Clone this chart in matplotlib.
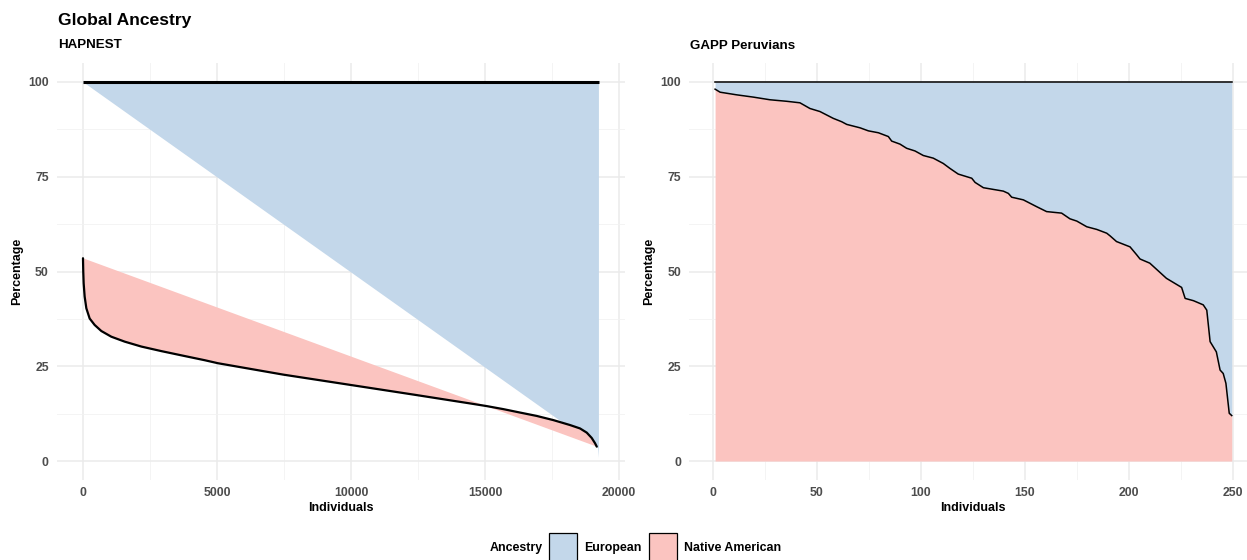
import matplotlib
matplotlib.use("Agg")
import matplotlib.pyplot as plt
from matplotlib.patches import Rectangle
from matplotlib.ticker import MultipleLocator

plt.rcParams['font.family'] = ['Liberation Sans', 'DejaVu Sans']
plt.rcParams['font.weight'] = 'bold'

# ---------------- data ----------------
title = "Global Ancestry"
panel_titles = ["HAPNEST", "GAPP Peruvians"]
legend_title = "Ancestry"
ancestries = ["European", "Native American"]
colors = {"European": "#C3D7EA", "Native American": "#FBC4C0"}

# HAPNEST: Native American percentage (sorted)
hap_x = [0, 10, 25, 62, 125, 249, 435, 684, 1057, 1555, 2177, 2923, 3794, 4540,
         5037, 7470, 9960, 12450, 14440, 15060, 15680, 16300, 16930, 17550, 18170,
         18545, 18795, 18980, 19105, 19170]
hap_native = [53.5, 50.0, 46.9, 43.4, 40.3, 37.6, 35.9, 34.3, 32.8, 31.5, 30.2, 29.0, 27.7, 26.6,
              25.8, 22.8, 20.1, 17.4, 15.2, 14.5, 13.7, 12.8, 11.9, 10.8, 9.5,
              8.6, 7.5, 6.1, 4.7, 3.8]
hap_total_x = [0, 19250]
hap_total = [100, 100]
# European band outline (as drawn): top at 100, lower end points at the last individuals
hap_euro_x = [0, 19250, 19250, 19220]
hap_euro_y = [100, 100, 0.8, 3.5]

# GAPP Peruvians: Native American percentage (sorted)
gapp_x = [1, 3.4, 11.4, 19.4, 27.4, 35.4, 41.8, 46.6, 51.4, 57.8, 61.9, 64.3, 70.7,
          74.7, 79.5, 84.3, 85.9, 89.9, 93.1, 97.1, 101.1, 105.9, 110.7, 113.9,
          117.9, 124.4, 126, 130, 139.6, 142, 143.6, 149.2, 155.6, 160.4, 167.6,
          171.6, 174.9, 179.7, 184.5, 189.3, 190.9, 194, 200.5, 203.7, 205.3, 210,
          218, 225.3, 227, 231, 235.7, 237.4, 239, 242, 243.8, 245.3, 246.6, 248.2, 249.4]
gapp_native = [98.1, 97.3, 96.6, 96.0, 95.3, 94.9, 94.5, 93.0, 92.2, 90.4, 89.5, 88.8, 87.9,
               87.1, 86.6, 85.6, 84.4, 83.6, 82.5, 81.8, 80.6, 79.9, 78.5, 77.2,
               75.7, 74.6, 73.5, 72.1, 71.2, 70.6, 69.6, 68.9, 67.1, 65.8, 65.4,
               63.9, 63.3, 61.8, 61.1, 60.1, 59.4, 57.9, 56.5, 54.4, 53.3, 52.2,
               48.2, 45.8, 42.9, 42.3, 41.2, 39.8, 31.5, 28.8, 24.0, 23.1, 20.5, 12.6, 12.0]
gapp_total = 100

x_ticks = [[0, 5000, 10000, 15000, 20000], [0, 50, 100, 150, 200, 250]]
y_ticks = [0, 25, 50, 75, 100]

# ---------------- figure ----------------
W, H = 1247, 560
fig = plt.figure(figsize=(W / 100, H / 100), dpi=100)

ax1 = fig.add_axes([57.2 / W, (H - 480) / H, 567.5 / W, 417 / H])
ax2 = fig.add_axes([689.3 / W, (H - 480) / H, 567.4 / W, 417 / H])

grid_major = dict(color="#EBEBEB", linewidth=1.1)
grid_minor = dict(color="#F2F2F2", linewidth=0.6)

def style(ax, xt, xminor, xlim):
    ax.set_xlim(*xlim)
    ax.set_ylim(-5, 105)
    ax.set_xticks(xt)
    ax.set_yticks(y_ticks)
    ax.xaxis.set_minor_locator(MultipleLocator(xminor))
    ax.yaxis.set_minor_locator(MultipleLocator(12.5))
    ax.grid(True, which="major", **grid_major)
    ax.grid(True, which="minor", **grid_minor)
    ax.set_axisbelow(True)
    for s in ax.spines.values():
        s.set_visible(False)
    ax.tick_params(which="both", length=0)
    ax.tick_params(axis="y", pad=6, labelsize=8.8, labelcolor="#4D4D4D")
    ax.tick_params(axis="x", pad=5, labelsize=8.8, labelcolor="#4D4D4D")
    for lab in ax.get_xticklabels() + ax.get_yticklabels():
        lab.set_fontweight("bold")
    ax.set_xlabel("Individuals", fontsize=9.0, fontweight="bold", labelpad=2)
    ax.set_ylabel("Percentage", fontsize=9.0, fontweight="bold", labelpad=4)

# Left panel: HAPNEST
style(ax1, x_ticks[0], 2500, (-962, 20212))
ax1.fill(hap_euro_x, hap_euro_y, color=colors["European"], linewidth=0, zorder=2)
ax1.fill(hap_x, hap_native, color=colors["Native American"], linewidth=0, zorder=2)
ax1.plot(hap_total_x, hap_total, color="black", linewidth=2.2, zorder=3, solid_capstyle="butt")
ax1.plot(hap_x, hap_native, color="black", linewidth=1.6, zorder=3,
         solid_joinstyle="round", solid_capstyle="round")

# Right panel: GAPP Peruvians
style(ax2, x_ticks[1], 25, (-11.4, 261.4))
ax2.fill_between(gapp_x, gapp_native, gapp_total, color=colors["European"], linewidth=0, zorder=2)
ax2.fill_between(gapp_x, 0, gapp_native, color=colors["Native American"], linewidth=0, zorder=2)
ax2.plot([gapp_x[0], gapp_x[-1]], [gapp_total, gapp_total], color="black", linewidth=1.1, zorder=3)
ax2.plot(gapp_x, gapp_native, color="black", linewidth=1.1, zorder=3)

# Titles
fig.text(58 / W, 1 - 20 / H, title, fontsize=12.6, fontweight="bold", ha="left", va="center")
fig.text(58 / W, 1 - 45 / H, panel_titles[0], fontsize=9.6, fontweight="bold", ha="left", va="center")
fig.text(690 / W, 1 - 46 / H, panel_titles[1], fontsize=9.6, fontweight="bold", ha="left", va="center")

# Legend (bottom)
ly = 1 - 548 / H
fig.text(490 / W, ly, legend_title, fontsize=8.9, fontweight="bold", ha="left", va="center")
key_x = [548.5, 649]
lab_x = [584, 684]
for kx, tx, name in zip(key_x, lab_x, ancestries):
    fig.add_artist(Rectangle((kx / W, (H - 563) / H), 28 / W, 30 / H,
                             transform=fig.transFigure, facecolor=colors[name],
                             edgecolor="black", linewidth=0.9, clip_on=False))
    fig.text(tx / W, ly, name, fontsize=8.9, fontweight="bold", ha="left", va="center")

fig.savefig("out.png", dpi=100)
